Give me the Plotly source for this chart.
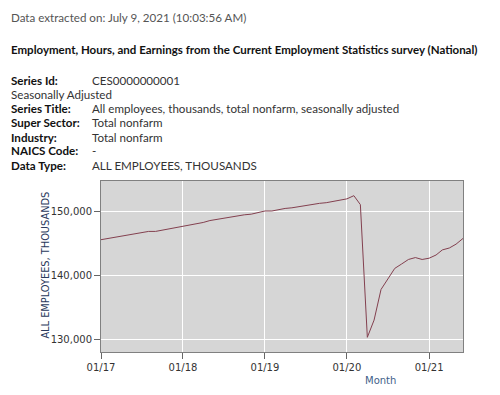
import plotly.graph_objects as go

months = [f"{y}-{m:02d}-01" for y in range(2017, 2022) for m in range(1, 13)][:54]
employees = [
    145600, 145800, 145900, 146100, 146300, 146500, 146700, 146900, 146900, 147100, 147300, 147400,
    147600, 147900, 148100, 148300, 148600, 148800, 149000, 149200, 149300, 149500, 149600, 149800,
    150100, 150100, 150300, 150500, 150600, 150800, 150900, 151100, 151300, 151400, 151600, 151700,
    152000, 152500, 151100, 130300, 133000, 137800, 139500, 141100, 141800, 142500, 142800, 142500,
    142700, 143200, 144000, 144300, 144900, 145800,
]
tick_dates = ["2017-01-01", "2018-01-01", "2019-01-01", "2020-01-01", "2021-01-01"]
tick_labels = ["01/17", "01/18", "01/19", "01/20", "01/21"]
y_ticks = [130000, 140000, 150000]
y_tick_labels = ["130,000", "140,000", "150,000"]

header_lines = [
    ("Series Id:", "CES0000000001"),
    ("Seasonally Adjusted", None),
    ("Series Title:", "All employees, thousands, total nonfarm, seasonally adjusted"),
    ("Super Sector:", "Total nonfarm"),
    ("Industry:", "Total nonfarm"),
    ("NAICS Code:", "-"),
    ("Data Type:", "ALL EMPLOYEES, THOUSANDS"),
]

W, H = 500, 395
L, R, T, B = 100.5, 463, 181, 352

def px(x):
    return (x - L) / (R - L)

def py(y):
    return (B - y) / (B - T)

fig = go.Figure()
fig.add_trace(go.Scatter(x=months, y=employees, mode="lines",
                         line=dict(color="#83404f", width=1), hoverinfo="x+y"))

txt_font = "Lato, 'Noto Sans', sans-serif"
fs = 11.6
ann = []
ann.append(dict(text="Data extracted on: July 9, 2021 (10:03:56 AM)", x=px(8), y=py(17),
                font=dict(family=txt_font, size=fs, color="#555555")))
ann.append(dict(text="<b>Employment, Hours, and Earnings from the Current Employment Statistics survey (National)</b>",
                x=px(8), y=py(49), font=dict(family=txt_font, size=fs - 0.1, color="#111111")))
ys = [80.7, 94.3, 108.3, 122.3, 137, 151, 165.3]
for (lab, val), yy in zip(header_lines, ys):
    if val is None:
        ann.append(dict(text=lab, x=px(8), y=py(yy), font=dict(family=txt_font, size=fs, color="#333333")))
    else:
        ann.append(dict(text=f"<b>{lab}</b>", x=px(8), y=py(yy), font=dict(family=txt_font, size=fs, color="#111111")))
        ann.append(dict(text=val, x=px(89), y=py(yy), font=dict(family=txt_font, size=fs, color="#333333")))
for a in ann:
    a.update(xref="paper", yref="paper", xanchor="left", yanchor="middle", showarrow=False)

ann.append(dict(text="ALL EMPLOYEES, THOUSANDS", x=px(44), y=py(265), xref="paper", yref="paper",
                textangle=-90, showarrow=False, xanchor="center", yanchor="middle",
                font=dict(family="DejaVu Sans", size=9.8, color="#2a3a5c")))
ann.append(dict(text="Month", x=px(380), y=py(380), xref="paper", yref="paper",
                showarrow=False, xanchor="center", yanchor="middle",
                font=dict(family="DejaVu Sans", size=10, color="#3f5f8a")))

fig.update_layout(
    width=W, height=H,
    margin=dict(l=L, r=W - R, t=T, b=H - B, pad=0),
    paper_bgcolor="white", plot_bgcolor="#d6d6d6",
    showlegend=False,
    annotations=ann,
    font=dict(family="DejaVu Sans", size=10, color="#333333"),
)
fig.update_xaxes(type="date", range=["2017-01-01", "2021-06-01"],
                 tickvals=tick_dates, ticktext=tick_labels,
                 showgrid=True, gridcolor="white", gridwidth=1,
                 showline=True, linecolor="#808080", linewidth=1, mirror=True,
                 ticks="outside", ticklen=6, tickcolor="#666666",
                 tickfont=dict(family="DejaVu Sans", size=10, color="#333333"), zeroline=False)
fig.update_yaxes(range=[128000, 154800], tickvals=y_ticks, ticktext=y_tick_labels,
                 showgrid=True, gridcolor="white", gridwidth=1,
                 showline=True, linecolor="#808080", linewidth=1, mirror=True,
                 ticks="outside", ticklen=6, tickcolor="#666666",
                 tickfont=dict(family="DejaVu Sans", size=10, color="#333333"), zeroline=False)

fig.write_html("out.html")
